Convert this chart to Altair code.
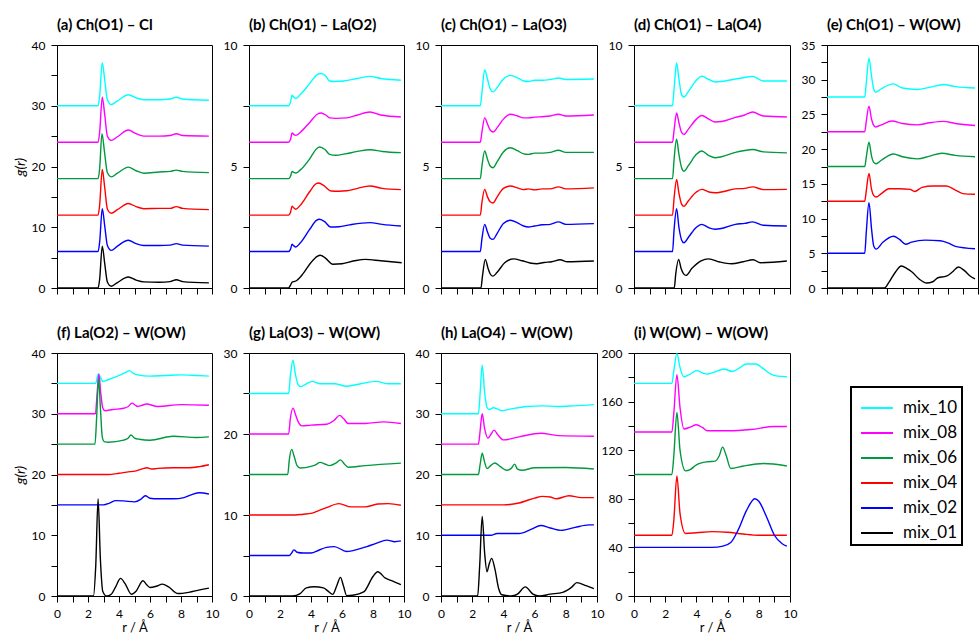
import altair as alt
import pandas as pd

SERIES = ["mix_10", "mix_08", "mix_06", "mix_04", "mix_02", "mix_01"]
COLORS = ["#00FFFF", "#FF00FF", "#00993D", "#FF0000", "#0000FF", "#000000"]

# ---------------- (a) Ch(O1) - Cl ----------------
A10 = [(0,30),(2.65,30),(2.75,31.5),(2.92,37.1),(3.08,34.2),(3.25,31.0),(3.5,30.2),(3.9,30.8),(4.6,31.8),(5.1,31.3),(5.6,31.0),(6.6,31.0),(7.3,31.1),(7.7,31.4),(8.1,31.1),(9.8,30.9)]
A08 = [(0,24),(2.65,24),(2.75,25.6),(2.92,31.4),(3.08,28.5),(3.25,25.0),(3.5,24.3),(3.9,24.9),(4.6,26.0),(5.1,25.4),(5.6,25.0),(6.6,25.0),(7.3,25.1),(7.7,25.4),(8.1,25.1),(9.8,25.0)]
A06 = [(0,18),(2.65,18),(2.75,19.6),(2.9,25.4),(3.06,22.5),(3.25,19.0),(3.5,18.3),(3.9,18.9),(4.6,19.9),(5.1,19.3),(5.6,18.9),(6.6,19.1),(7.3,19.2),(7.7,19.4),(8.1,19.2),(9.8,19.0)]
A04 = [(0,12),(2.65,12),(2.75,13.6),(2.92,19.5),(3.08,16.5),(3.25,13.0),(3.5,12.3),(3.9,12.9),(4.6,13.9),(5.1,13.4),(5.6,13.05),(6.6,13.1),(7.3,13.1),(7.7,13.4),(8.1,13.1),(9.8,12.9)]
A02 = [(0,6),(2.65,6),(2.75,7.5),(2.92,13.05),(3.08,10.2),(3.25,7.0),(3.5,6.2),(3.9,6.9),(4.6,7.85),(5.1,7.3),(5.6,7.0),(6.6,7.0),(7.3,7.05),(7.7,7.3),(8.1,7.05),(9.8,6.9)]
A01 = [(0,0),(2.65,0),(2.75,1.4),(2.92,6.9),(3.08,4.0),(3.25,1.0),(3.5,0.3),(3.9,0.9),(4.6,1.8),(5.1,1.3),(5.6,1.0),(6.6,0.95),(7.3,1.05),(7.7,1.35),(8.1,1.05),(9.8,0.85)]

# ---------------- (b) Ch(O1) - La(O2) ----------------
B10 = [(0,7.5),(2.55,7.5),(2.68,7.65),(2.78,7.93),(2.88,7.86),(3.02,7.8),(3.3,7.95),(3.9,8.4),(4.4,8.78),(4.65,8.83),(4.95,8.72),(5.2,8.52),(5.5,8.5),(6.1,8.52),(7.0,8.62),(7.8,8.71),(8.5,8.62),(9.8,8.55)]
B08 = [(0,6),(2.55,6),(2.68,6.12),(2.78,6.38),(2.88,6.32),(3.02,6.28),(3.3,6.4),(3.9,6.8),(4.4,7.15),(4.65,7.2),(4.95,7.12),(5.2,7.0),(5.6,6.98),(6.3,7.0),(7.0,7.12),(7.8,7.24),(8.5,7.12),(9.8,7.04)]
B06 = [(0,4.5),(2.55,4.5),(2.68,4.6),(2.78,4.8),(2.88,4.76),(3.02,4.73),(3.3,4.85),(3.9,5.3),(4.35,5.72),(4.55,5.8),(4.9,5.7),(5.2,5.5),(5.6,5.46),(6.2,5.52),(7.0,5.62),(7.8,5.69),(8.6,5.62),(9.8,5.57)]
B04 = [(0,3),(2.55,3),(2.68,3.12),(2.78,3.37),(2.88,3.3),(3.02,3.24),(3.3,3.4),(3.9,3.95),(4.3,4.28),(4.5,4.32),(4.85,4.2),(5.3,3.99),(5.8,3.98),(6.3,4.0),(7.0,4.1),(7.8,4.2),(8.6,4.1),(9.8,4.05)]
B02 = [(0,1.5),(2.55,1.5),(2.68,1.6),(2.78,1.8),(2.88,1.74),(3.02,1.69),(3.3,1.85),(3.9,2.4),(4.35,2.78),(4.55,2.83),(4.9,2.72),(5.25,2.51),(5.8,2.52),(6.5,2.6),(7.8,2.69),(8.6,2.62),(9.8,2.55)]
B01 = [(0,0),(2.55,0),(2.68,0.12),(2.8,0.25),(2.95,0.27),(3.1,0.32),(3.5,0.6),(4.0,1.05),(4.4,1.3),(4.6,1.35),(4.95,1.22),(5.4,0.98),(6.0,1.0),(6.8,1.12),(7.5,1.18),(8.5,1.12),(9.85,1.04)]

# ---------------- (c) Ch(O1) - La(O3) ----------------
C10 = [(0,7.5),(2.52,7.5),(2.62,8.0),(2.8,8.98),(2.98,8.6),(3.15,8.2),(3.33,8.07),(3.6,8.25),(4.0,8.6),(4.45,8.75),(4.9,8.65),(5.3,8.52),(5.6,8.5),(6.0,8.55),(6.5,8.55),(7.0,8.58),(7.53,8.64),(8.0,8.58),(9.8,8.6)]
C08 = [(0,6),(2.52,6),(2.62,6.4),(2.8,7.0),(2.98,6.75),(3.15,6.5),(3.35,6.42),(3.6,6.6),(4.0,6.95),(4.45,7.15),(4.9,7.08),(5.3,7.0),(5.6,7.0),(6.0,7.03),(6.5,7.05),(7.0,7.08),(7.53,7.15),(8.0,7.08),(9.8,7.12)]
C06 = [(0,4.5),(2.52,4.5),(2.62,5.0),(2.8,5.64),(2.98,5.3),(3.15,5.02),(3.33,4.95),(3.6,5.2),(4.0,5.6),(4.45,5.77),(4.9,5.65),(5.3,5.52),(5.6,5.5),(6.0,5.55),(6.5,5.55),(7.0,5.58),(7.53,5.67),(8.0,5.58),(9.8,5.58)]
C04 = [(0,3),(2.52,3),(2.62,3.5),(2.8,4.06),(2.98,3.75),(3.15,3.55),(3.33,3.5),(3.6,3.75),(4.0,4.1),(4.45,4.2),(4.9,4.12),(5.3,4.05),(5.6,4.08),(6.0,4.04),(6.5,4.08),(7.0,4.08),(7.53,4.16),(8.0,4.08),(9.8,4.12)]
C02 = [(0,1.5),(2.52,1.5),(2.62,2.0),(2.8,2.62),(2.98,2.3),(3.15,2.05),(3.33,2.0),(3.6,2.25),(4.0,2.65),(4.45,2.79),(4.9,2.68),(5.3,2.55),(5.6,2.51),(6.0,2.55),(6.5,2.6),(7.0,2.62),(7.53,2.72),(8.0,2.62),(9.8,2.65)]
C01 = [(0,0),(2.56,0),(2.66,0.5),(2.84,1.18),(3.02,0.8),(3.18,0.55),(3.33,0.49),(3.6,0.65),(4.1,1.05),(4.66,1.2),(5.2,1.12),(5.7,1.03),(6.15,1.0),(6.6,1.05),(7.1,1.08),(7.64,1.16),(8.1,1.08),(9.8,1.11)]

# ---------------- (d) Ch(O1) - La(O4) ----------------
D10 = [(0,7.5),(2.47,7.5),(2.57,8.2),(2.73,9.26),(2.88,8.6),(3.05,7.95),(3.2,7.86),(3.5,8.1),(4.0,8.55),(4.34,8.72),(4.8,8.58),(5.2,8.48),(5.6,8.5),(6.5,8.6),(7.1,8.66),(7.57,8.71),(8.3,8.52),(9.8,8.52)]
D08 = [(0,6),(2.47,6),(2.57,6.5),(2.73,7.2),(2.88,6.8),(3.05,6.4),(3.2,6.32),(3.5,6.55),(4.0,6.95),(4.34,7.1),(4.8,6.95),(5.2,6.83),(5.6,6.85),(6.5,7.02),(7.1,7.12),(7.6,7.24),(8.3,7.08),(9.8,7.04)]
D06 = [(0,4.5),(2.47,4.5),(2.57,5.3),(2.73,6.12),(2.88,5.5),(3.05,4.95),(3.2,4.81),(3.5,5.05),(4.0,5.5),(4.34,5.64),(4.8,5.45),(5.2,5.36),(5.6,5.4),(6.5,5.58),(7.1,5.66),(7.6,5.7),(8.3,5.6),(9.8,5.56)]
D04 = [(0,3),(2.47,3),(2.57,3.7),(2.73,4.47),(2.88,3.9),(3.05,3.45),(3.2,3.36),(3.5,3.6),(4.0,3.95),(4.34,4.06),(4.8,3.95),(5.2,3.92),(5.6,3.95),(6.5,4.08),(7.1,4.1),(7.6,4.16),(8.3,4.05),(9.8,4.06)]
D02 = [(0,1.5),(2.47,1.5),(2.57,2.4),(2.73,3.26),(2.88,2.5),(3.05,1.98),(3.2,1.86),(3.5,2.1),(4.0,2.5),(4.34,2.62),(4.8,2.48),(5.2,2.42),(5.6,2.45),(6.5,2.62),(7.1,2.66),(7.6,2.72),(8.3,2.58),(9.8,2.55)]
D01 = [(0,0),(2.58,0),(2.68,0.6),(2.86,1.18),(3.02,0.8),(3.18,0.58),(3.34,0.52),(3.7,0.8),(4.3,1.12),(4.78,1.2),(5.5,1.07),(6.24,1.0),(7.0,1.08),(7.64,1.16),(8.1,1.04),(9.8,1.11)]

# ---------------- (e) Ch(O1) - W(OW) ----------------
E10 = [(0,27.5),(2.5,27.5),(2.6,29.5),(2.78,33.1),(2.95,30.5),(3.1,28.6),(3.23,28.2),(3.6,28.7),(4.37,29.4),(5.0,28.8),(5.98,28.6),(6.8,28.9),(7.74,29.3),(8.5,29.0),(9.8,28.8)]
E08 = [(0,22.5),(2.5,22.5),(2.6,24.0),(2.78,26.2),(2.95,24.3),(3.1,23.4),(3.23,23.2),(3.6,23.5),(4.3,24.05),(5.0,23.7),(6.0,23.5),(6.8,23.8),(7.7,24.0),(8.5,23.7),(9.8,23.4)]
E06 = [(0,17.5),(2.5,17.5),(2.6,18.8),(2.78,21.0),(2.95,19.0),(3.1,18.1),(3.25,17.9),(3.6,18.4),(4.4,19.3),(5.0,18.9),(6.0,18.6),(6.8,19.0),(7.6,19.4),(8.5,19.1),(9.8,18.9)]
E04 = [(0,12.5),(2.5,12.5),(2.6,14.0),(2.78,16.5),(2.95,14.2),(3.1,13.3),(3.25,13.1),(3.6,13.6),(4.1,14.3),(4.8,14.3),(5.5,14.2),(5.8,13.9),(6.3,14.5),(7.0,14.7),(7.9,14.7),(8.5,14.1),(9.0,13.6),(9.8,13.5)]
E02 = [(0,5),(2.5,5),(2.6,8.0),(2.78,12.3),(2.95,8.5),(3.1,6.0),(3.25,5.6),(3.7,6.6),(4.4,7.45),(4.8,7.0),(5.2,6.3),(5.6,6.6),(6.5,6.9),(7.5,6.8),(8.0,6.5),(8.5,6.0),(9.8,5.66)]
E01 = [(0,0),(3.8,0),(4.1,0.8),(4.5,2.2),(4.92,3.17),(5.3,2.8),(5.63,2.3),(6.1,1.3),(6.6,0.72),(7.0,0.9),(7.35,1.48),(7.9,1.7),(8.3,2.3),(8.7,3.02),(9.1,2.5),(9.5,1.7),(9.8,1.3)]

# ---------------- (f) La(O2) - W(OW) ----------------
F10 = [(0,35),(2.5,35),(2.58,35.8),(2.68,36.6),(2.8,36.0),(2.97,35.3),(3.3,35.6),(4.0,36.3),(4.5,36.9),(4.66,37.1),(4.9,36.7),(5.2,36.4),(6.0,36.2),(7.0,36.3),(8.0,36.4),(9.0,36.3),(9.8,36.2)]
F08 = [(0,30),(2.48,30),(2.58,33),(2.7,36.5),(2.82,33.5),(2.95,31.0),(3.1,30.5),(3.6,30.7),(4.3,30.9),(4.6,31.2),(4.84,31.75),(5.05,31.4),(5.2,31.2),(5.5,31.4),(5.76,31.6),(6.5,31.2),(8.0,31.5),(9.8,31.4)]
F06 = [(0,25),(2.45,25),(2.55,29),(2.68,35.8),(2.8,31.0),(2.92,26.2),(3.05,25.4),(3.3,25.3),(4.3,25.65),(4.6,26.0),(4.77,26.5),(5.0,26.0),(5.3,25.8),(6.0,25.65),(7.5,26.3),(9.0,26.1),(9.8,26.2)]
F04 = [(0,20),(3.3,20),(4.0,20.2),(4.5,20.4),(5.1,20.6),(5.6,21.0),(5.8,21.1),(6.1,20.9),(6.5,21.0),(7.5,21.1),(8.5,21.1),(9.2,21.3),(9.8,21.6)]
F02 = [(0,15),(3.0,15),(3.4,15.3),(3.8,15.7),(4.3,15.65),(5.0,15.5),(5.4,15.9),(5.7,16.5),(6.0,16.1),(6.5,16.0),(7.5,16.0),(8.2,16.2),(8.7,16.7),(9.2,17.0),(9.8,16.8)]
F01 = [(0,0),(2.35,0),(2.5,5),(2.65,16.0),(2.8,6),(2.95,0.8),(3.2,0),(3.5,0.3),(3.8,1.6),(4.1,2.9),(4.4,2.0),(4.8,0.3),(5.1,0.8),(5.55,2.5),(5.8,1.8),(6.0,1.4),(6.4,1.6),(6.8,1.95),(7.2,1.5),(7.8,0.4),(8.5,0.6),(9.2,1.0),(9.8,1.3)]

# ---------------- (g) La(O3) - W(OW) ----------------
G10 = [(0,25),(2.56,25),(2.66,27.0),(2.84,29.1),(3.0,27.3),(3.2,26.0),(3.37,25.85),(3.7,26.2),(4.08,26.5),(4.6,26.2),(5.5,26.2),(6.3,25.9),(7.2,26.2),(8.2,26.5),(9.0,26.2),(9.8,26.2)]
G08 = [(0,20),(2.56,20),(2.66,21.8),(2.84,23.2),(3.0,22.4),(3.2,21.4),(3.4,21.0),(4.0,21.1),(5.0,21.2),(5.5,21.7),(5.85,22.3),(6.1,21.9),(6.4,21.3),(7.5,21.3),(8.7,21.5),(9.8,21.3)]
G06 = [(0,15),(2.5,15),(2.6,16.8),(2.75,18.1),(2.92,17.2),(3.1,16.1),(3.3,15.8),(4.0,16.0),(4.3,16.2),(4.6,16.5),(4.9,16.3),(5.2,16.1),(5.6,16.4),(5.9,16.8),(6.15,16.3),(6.4,15.9),(7.5,16.1),(9.8,16.4)]
G04 = [(0,10),(3.0,10),(3.5,10.1),(4.0,10.2),(4.5,10.55),(5.0,10.9),(5.8,11.4),(6.6,11.0),(7.5,11.0),(8.3,11.35),(9.0,11.4),(9.8,11.2)]
G02 = [(0,5),(2.6,5),(2.75,5.3),(2.9,5.7),(3.1,5.4),(3.5,5.3),(4.0,5.3),(4.5,5.65),(5.0,6.0),(5.5,6.1),(6.3,5.5),(7.0,5.75),(7.6,6.1),(8.2,6.5),(8.9,6.9),(9.4,6.7),(9.8,6.8)]
G01 = [(0,0),(2.8,0),(3.3,0.3),(3.7,1.0),(4.2,1.15),(4.8,1.0),(5.1,0.6),(5.4,0.2),(5.65,1.2),(5.9,2.3),(6.1,1.2),(6.3,0.05),(6.7,0.1),(7.4,0.5),(8.0,2.4),(8.3,3.0),(8.8,2.2),(9.2,1.9),(9.8,1.4)]

# ---------------- (h) La(O4) - W(OW) ----------------
H10 = [(0,30),(2.4,30),(2.5,33),(2.64,38.0),(2.8,33.5),(2.95,31.0),(3.1,30.7),(3.35,31.0),(3.6,30.8),(3.9,30.5),(4.5,30.8),(5.5,31.2),(6.5,31.3),(7.5,31.2),(8.5,31.3),(9.8,31.5)]
H08 = [(0,25),(2.4,25),(2.5,27),(2.64,30.0),(2.8,27.5),(3.0,26.0),(3.2,26.6),(3.4,27.3),(3.65,26.5),(4.0,25.7),(5.0,26.2),(6.4,26.8),(7.5,26.4),(9.8,26.3)]
H06 = [(0,20),(2.4,20),(2.5,21.5),(2.64,23.5),(2.8,22.0),(2.95,21.0),(3.2,21.5),(3.45,21.9),(3.8,21.3),(4.2,20.7),(4.5,21.0),(4.72,21.7),(4.9,20.9),(5.2,20.7),(6.0,21.1),(8.0,21.15),(9.8,20.9)]
H04 = [(0,15),(4.0,15),(5.0,15.3),(5.6,15.8),(6.0,16.1),(6.5,16.4),(7.0,16.3),(7.4,16.0),(8.2,16.5),(9.0,16.2),(9.8,16.2)]
H02 = [(0,10),(3.2,10),(3.6,10.3),(5.0,10.3),(5.8,11.0),(6.4,11.6),(7.0,11.2),(7.7,10.8),(8.6,11.3),(9.5,11.7),(9.8,11.7)]
H01 = [(0,0),(2.35,0),(2.48,5),(2.64,13.1),(2.8,7),(2.95,4.0),(3.08,5.2),(3.25,6.2),(3.45,4.5),(3.7,1.2),(3.9,0.2),(4.5,0),(4.9,0.3),(5.4,1.5),(5.9,0.3),(6.3,0),(7.0,0.3),(7.8,0.6),(8.4,1.5),(8.7,2.2),(9.3,1.7),(9.8,1.2)]

# ---------------- (i) W(OW) - W(OW) ----------------
I10 = [(0,175),(2.43,175),(2.55,185),(2.75,199.5),(2.95,188),(3.18,180.5),(3.5,182),(4.04,185.5),(4.4,183.5),(4.73,182.7),(5.2,184.5),(5.76,186.8),(6.3,184.8),(6.8,188),(7.2,191),(7.8,191),(8.3,187),(8.77,182.7),(9.2,181),(9.8,180.5)]
I08 = [(0,135),(2.43,135),(2.55,150),(2.75,182.2),(2.95,155),(3.2,137.5),(3.6,139),(4.0,141),(4.4,138.5),(4.7,136),(6.0,136),(7.5,137),(9.0,139.5),(9.8,139.5)]
I06 = [(0,100),(2.43,100),(2.55,115),(2.75,151),(2.95,120),(3.3,103),(3.6,104),(4.0,108),(4.7,110.5),(5.2,111),(5.45,115),(5.68,122.5),(5.9,116),(6.2,105),(7.0,107),(8.3,109),(9.8,107)]
I04 = [(0,50),(2.43,50),(2.55,62),(2.75,98.9),(2.95,68),(3.3,51.5),(4.0,52),(5.0,53),(6.0,52.5),(7.0,51),(8.0,50),(9.8,50)]
I02 = [(0,40),(5.0,40),(5.7,41),(6.2,44),(6.7,55),(7.2,70),(7.75,80),(8.0,78),(8.5,65),(9.0,50),(9.5,43),(9.8,41)]

CURVES = {
    "a": [A10, A08, A06, A04, A02, A01],
    "b": [B10, B08, B06, B04, B02, B01],
    "c": [C10, C08, C06, C04, C02, C01],
    "d": [D10, D08, D06, D04, D02, D01],
    "e": [E10, E08, E06, E04, E02, E01],
    "f": [F10, F08, F06, F04, F02, F01],
    "g": [G10, G08, G06, G04, G02, G01],
    "h": [H10, H08, H06, H04, H02, H01],
    "i": [I10, I08, I06, I04, I02],
}

TITLES = {
    "a": "(a) Ch(O1) – Cl", "b": "(b) Ch(O1) – La(O2)", "c": "(c) Ch(O1) – La(O3)",
    "d": "(d) Ch(O1) – La(O4)", "e": "(e) Ch(O1) – W(OW)", "f": "(f) La(O2) – W(OW)",
    "g": "(g) La(O3) – W(OW)", "h": "(h) La(O4) – W(OW)", "i": "(i) W(OW) – W(OW)",
}
# y max, tick step, label step
YAXES = {
    "a": (40, 5, 10), "b": (10, 2.5, 5), "c": (10, 2.5, 5), "d": (10, 2.5, 5),
    "e": (35, 2.5, 5), "f": (40, 5, 10), "g": (30, 5, 10), "h": (40, 5, 10),
    "i": (200, 20, 40),
}
WIDTHS = {"a": 155, "b": 155, "c": 156, "d": 156, "e": 151,
          "f": 155, "g": 155, "h": 156, "i": 156}

legend = alt.Legend(
    orient="none", legendX=794, legendY=342, title=None,
    symbolType="stroke", symbolSize=1024, symbolStrokeWidth=2,
    symbolOffset=5, labelOffset=9, labelFontSize=17, labelFont="Lato",
    labelColor="black", strokeColor="black", padding=4, rowPadding=-9,
)
color_scale = alt.Scale(domain=SERIES, range=COLORS)


def panel(p, bottom):
    rows = []
    for s, pts in zip(SERIES, CURVES[p]):
        for r, g in pts:
            rows.append({"series": s, "r": r, "g": g})
    df = pd.DataFrame(rows)
    ymax, tstep, lstep = YAXES[p]
    yvals = []
    v = 0.0
    while v <= ymax + 1e-9:
        yvals.append(round(v, 2))
        v += tstep
    if bottom:
        xaxis = alt.Axis(values=list(range(11)), labelOverlap=False, labelFlush=False,
                         labelExpr="datum.value % 2 === 0 ? datum.label : ''",
                         title="r / Å", titleFontSize=13, titlePadding=2)
    else:
        xaxis = alt.Axis(values=list(range(11)), labels=False, title=None)
    ytitle = "g(r)" if p in ("a", "f") else None
    yaxis = alt.Axis(values=yvals, labelOverlap=False, labelFlush=False,
                     labelExpr=f"datum.value % {lstep} === 0 ? datum.label : ''",
                     title=ytitle, titleFontStyle="italic", titlePadding=4)
    return alt.Chart(df).mark_line(interpolate="monotone", strokeWidth=1.4, clip=True).encode(
        x=alt.X("r:Q", scale=alt.Scale(domain=[0, 10], nice=False), axis=xaxis),
        y=alt.Y("g:Q", scale=alt.Scale(domain=[0, ymax], nice=False), axis=yaxis),
        color=alt.Color("series:N", scale=color_scale, legend=legend),
    ).properties(
        width=WIDTHS[p], height=243,
        title=alt.TitleParams(TITLES[p], anchor="start", frame="group"),
    )


charts = [panel(p, p in "fghi") for p in "abcdefghi"]

chart = alt.concat(
    *charts, columns=5, spacing={"row": 65, "column": 37}, bounds="flush",
).properties(
    padding={"left": 12, "top": 17, "right": 0, "bottom": 0},
).configure_view(
    stroke="black", strokeWidth=1,
).configure_axis(
    labelFont="Lato", labelFontSize=12, labelColor="black",
    titleFont="Lato", titleFontSize=14, titleColor="black", titleFontWeight="normal",
    domainColor="black", tickColor="black", grid=False, tickSize=6, labelPadding=6,
).configure_title(
    font="Lato", fontSize=15, fontWeight="bold", color="black", offset=6,
).configure_legend(
    strokeWidth=2,
)

chart.save("out.html", embed_options={"renderer": "svg", "actions": False})
